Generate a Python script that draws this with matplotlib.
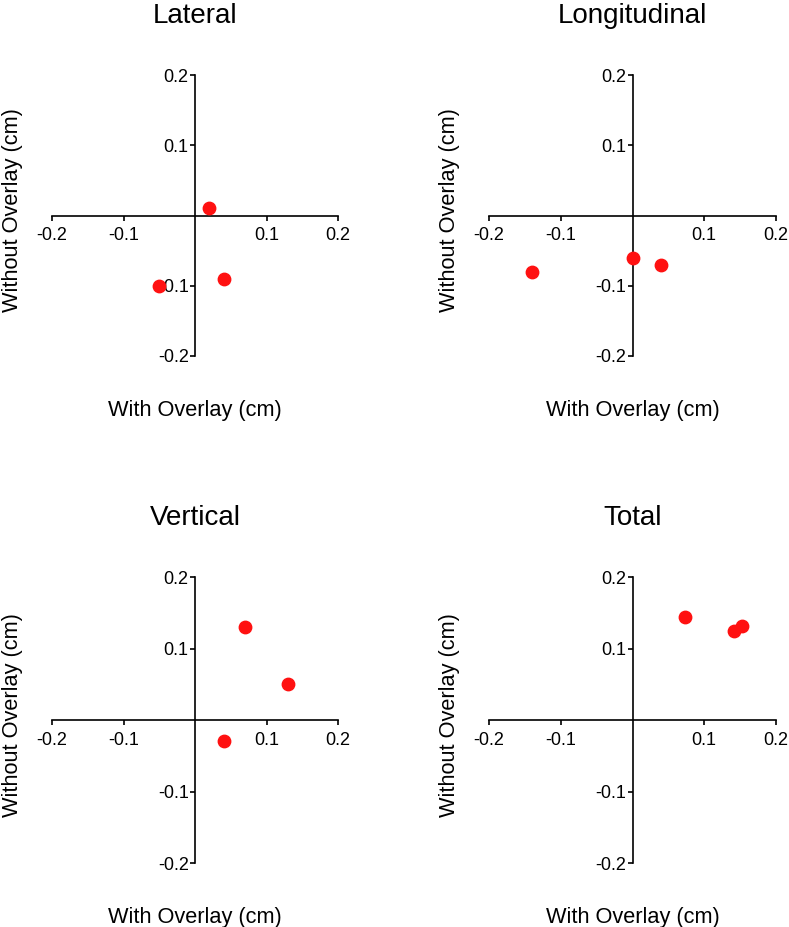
import matplotlib.pyplot as plt

plt.rcParams['font.family'] = ['Liberation Sans', 'DejaVu Sans']

titles = ["Lateral", "Longitudinal", "Vertical", "Total"]
with_overlay = [
    [0.02, 0.04, -0.05],
    [-0.14, 0.0, 0.04],
    [0.07, 0.13, 0.04],
    [0.073, 0.141, 0.153],
]
without_overlay = [
    [0.01, -0.09, -0.10],
    [-0.08, -0.06, -0.07],
    [0.13, 0.05, -0.03],
    [0.144, 0.125, 0.132],
]
tick_vals = [-0.2, -0.1, 0.1, 0.2]
tick_labels = ["-0.2", "-0.1", "0.1", "0.2"]

W, H = 789, 927
fig = plt.figure(figsize=(W / 100, H / 100), dpi=100)

# axes boxes in pixels: left, top, right, bottom
boxes = [
    (52, 75, 338, 356),
    (489, 75, 776, 356),
    (52, 577, 338, 863),
    (489, 577, 776, 863),
]

for i, (l, t, r, b) in enumerate(boxes):
    w_px, h_px = r - l, b - t
    ax = fig.add_axes([l / W, 1 - b / H, w_px / W, h_px / H])
    ax.scatter(with_overlay[i], without_overlay[i], s=80, color='#ff1111',
               zorder=3, clip_on=False)
    ax.set_xlim(-0.2, 0.2)
    ax.set_ylim(-0.2, 0.2)
    for side in ['left', 'bottom']:
        ax.spines[side].set_position('zero')
        ax.spines[side].set_linewidth(1.2)
    ax.spines['right'].set_visible(False)
    ax.spines['top'].set_visible(False)
    ax.set_xticks(tick_vals)
    ax.set_xticklabels(tick_labels)
    ax.set_yticks(tick_vals)
    ax.set_yticklabels(tick_labels)
    ax.tick_params(direction='out', length=3.5, width=1.2, labelsize=13)
    ax.tick_params(axis='x', pad=5)
    ax.tick_params(axis='y', pad=1)
    ax.set_facecolor('none')

    ax.text(0.5, 1 + 52 / h_px, titles[i], transform=ax.transAxes,
            ha='center', va='baseline', fontsize=20)
    ax.text(0.5, -60 / h_px, "With Overlay (cm)", transform=ax.transAxes,
            ha='center', va='baseline', fontsize=15.7)
    ax.text(-50 / w_px, 0.518, "Without Overlay (cm)", transform=ax.transAxes,
            ha='left', va='center', rotation=90, fontsize=15.7)

fig.savefig('out.png', dpi=100)
